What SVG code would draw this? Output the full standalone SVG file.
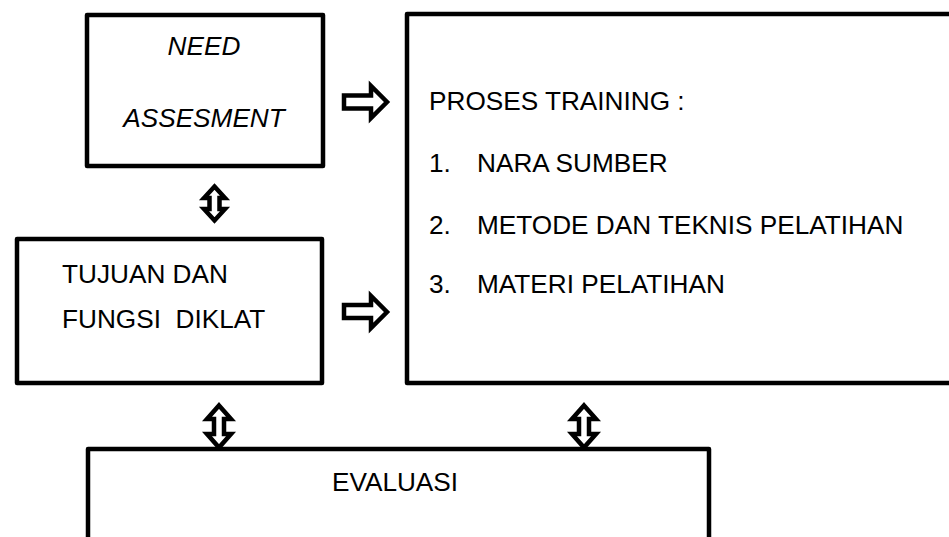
<svg xmlns="http://www.w3.org/2000/svg" width="949" height="537" viewBox="0 0 949 537">
<style>
.box{fill:#fff;stroke:#000;stroke-width:4.5;stroke-linejoin:round}
.arr{fill:#fff;stroke:#000;stroke-width:4.5;stroke-linejoin:miter;stroke-miterlimit:10}
text{font-family:"Liberation Sans",Arial,sans-serif;font-size:26.2px;fill:#000}
.it{font-style:italic}
</style>
<rect width="949" height="537" fill="#fff"/>
<g id="need-assesment">
<rect class="box" x="87" y="15" width="236" height="151"/>
<text class="it" x="204" y="55" text-anchor="middle">NEED</text>
<text class="it" x="204" y="127" text-anchor="middle">ASSESMENT</text>
</g>
<g id="proses-training">
<rect class="box" x="407" y="14" width="560" height="369"/>
<text x="429" y="110">PROSES TRAINING :</text>
<text x="429" y="172">1.</text><text x="477" y="172">NARA SUMBER</text>
<text x="429" y="234">2.</text><text x="477" y="234">METODE DAN TEKNIS PELATIHAN</text>
<text x="429" y="293">3.</text><text x="477" y="293">MATERI PELATIHAN</text>
</g>
<g id="tujuan-fungsi">
<rect class="box" x="17" y="239" width="305" height="144"/>
<text x="62" y="283">TUJUAN DAN</text>
<text x="62" y="328" xml:space="preserve">FUNGSI  DIKLAT</text>
</g>
<g id="evaluasi">
<rect class="box" x="88" y="449" width="621" height="130"/>
<text x="395" y="491" text-anchor="middle">EVALUASI</text>
</g>
<g id="connectors">
<polygon class="arr" points="344,95.5 371,95.5 371,86 387,102 371,118 371,108.5 344,108.5"/>
<polygon class="arr" points="344,305 371,305 371,296 387,312 371,328 371,318 344,318"/>
<polygon class="arr" points="214.5,186.5 225,198 219.5,198 219.5,209 225,209 214.5,220.5 204,209 209.5,209 209.5,198 204,198"/>
<polygon class="arr" points="219,405.5 231,419 224,419 224,434 231,434 219,447.5 207,434 214,434 214,419 207,419"/>
<polygon class="arr" points="584,405.5 596,419 589,419 589,434 596,434 584,447.5 572,434 579,434 579,419 572,419"/>
</g>
</svg>
